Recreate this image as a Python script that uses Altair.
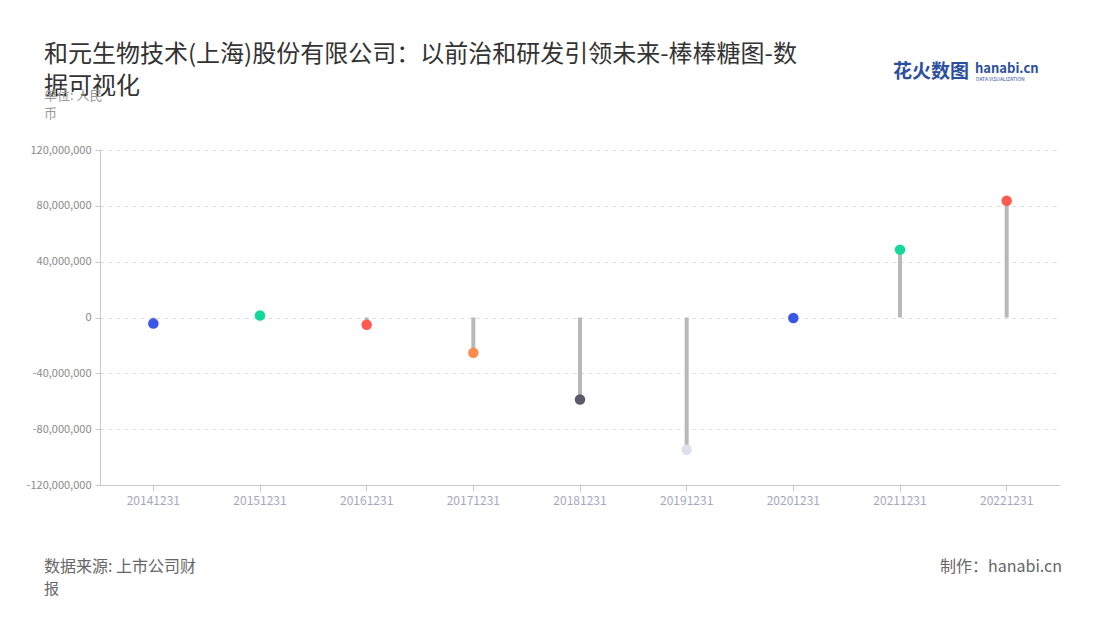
import altair as alt
import pandas as pd

dates = ["20141231", "20151231", "20161231", "20171231", "20181231",
         "20191231", "20201231", "20211231", "20221231"]
values = [-4300000, 1400000, -5200000, -25300000, -58700000,
          -94800000, -400000, 48600000, 83700000]
colors = ["#3a56e6", "#12d99b", "#ff5b52", "#ff8c4f", "#5a5a6a",
          "#dde1ee", "#3a56e6", "#12d99b", "#ff5b52"]
y_ticks = [-120000000, -80000000, -40000000, 0, 40000000, 80000000, 120000000]

title_lines = ["和元生物技术(上海)股份有限公司：以前治和研发引领未来-棒棒糖图-数", "据可视化"]
unit_lines = ["单位: 人民", "币"]
source_lines = ["数据来源: 上市公司财", "报"]
maker = "制作：hanabi.cn"

FONT = "Noto Sans CJK SC"

df = pd.DataFrame({"date": dates, "value": values})

x = alt.X("date:N", sort=dates,
          scale=alt.Scale(paddingInner=0, paddingOuter=0),
          axis=alt.Axis(title=None, labelAngle=0, labelColor="#a3a8bd", labelFontSize=12,
                        labelFont=FONT, domainColor="#c8c8c8", tickColor="#c8c8c8",
                        tickSize=6, labelPadding=4, grid=False))
y_scale = alt.Scale(domain=[-120000000, 120000000], nice=False)

base = alt.Chart(df)

rules = base.mark_rule(color="#b8b8b8", strokeWidth=4).encode(
    x=x,
    y=alt.Y("value:Q", scale=y_scale,
            axis=alt.Axis(title=None, values=y_ticks,
                          labelExpr="replace(format(datum.value, ','), '\u2212', '-')",
                          labelColor="#8a8a8a", labelFontSize=11, labelFont=FONT,
                          domainColor="#c8c8c8", tickColor="#c8c8c8", tickSize=5,
                          labelPadding=4,
                          gridColor="#dcdcdc", gridDash=[4, 4], gridWidth=1)),
    y2=alt.datum(0),
)

dots = base.mark_circle(size=110, opacity=1).encode(
    x=x,
    y=alt.Y("value:Q", scale=y_scale),
    color=alt.Color("date:N", scale=alt.Scale(domain=dates, range=colors), legend=None),
)


def txt(s, xpos, ypos, size, color, align="left", weight="normal"):
    return alt.Chart(pd.DataFrame({"t": [s]})).mark_text(
        align=align, baseline="middle", fontSize=size, color=color, font=FONT,
        fontWeight=weight
    ).encode(text="t:N", x=alt.value(xpos), y=alt.value(ypos))


layers = [
    rules, dots,
    txt(title_lines[0], -56, -95, 24, "#333333"),
    txt(title_lines[1], -56, -63, 24, "#333333"),
    txt(unit_lines[0], -56, -54, 13, "#999999"),
    txt(unit_lines[1], -56, -36, 13, "#999999"),
    txt(source_lines[0], -56, 417, 16, "#666666"),
    txt(source_lines[1], -56, 439, 15, "#666666"),
    txt(maker, 962, 417, 16, "#666666", align="right"),
    txt("花火数图", 793, -78, 19, "#2b4f9e", weight="bold"),
    txt("hanabi.cn", 875, -81, 13, "#2b4f9e", weight="bold"),
    txt("DATA VISUALIZATION", 876, -71, 5, "#2b4f9e"),
]

chart = alt.layer(*layers).properties(
    width=960, height=335,
    autosize=alt.AutoSizeParams(type="none"),
    padding={"left": 92, "top": 142, "right": 30, "bottom": 120},
    background="white",
).configure_view(stroke=None)

chart.save("out.html", embed_options={"renderer": "svg", "actions": False})
